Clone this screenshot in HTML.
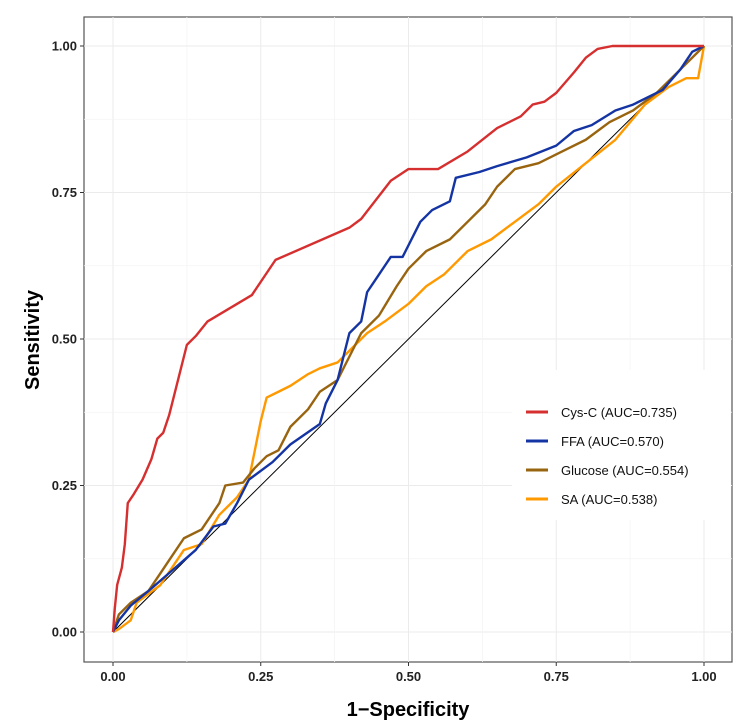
<!DOCTYPE html>
<html><head><meta charset="utf-8"><style>
body{margin:0;background:#fff;font-family:"Liberation Sans",Arial,sans-serif}
svg text{font-family:"Liberation Sans",Arial,sans-serif}
</style></head><body>
<svg id="chart" width="744" height="721" viewBox="0 0 744 721">
<rect x="84" y="17" width="648" height="645" fill="#fff" stroke="#555" stroke-width="1.2"/>
<g id="grid"></g><g id="axes"></g><g id="series"></g>
<g>
<rect x="512" y="370" width="219" height="150" fill="#fff"/>
</g>
<g id="legend"></g>
<text transform="translate(39,340) rotate(-90)" text-anchor="middle" font-size="20" font-weight="bold">Sensitivity</text>
<text x="408" y="716" text-anchor="middle" font-size="20" font-weight="bold">1−Specificity</text>
</svg>
<script>
const ticks=[0,0.25,0.5,0.75,1];
const tickLabels=["0.00","0.25","0.50","0.75","1.00"];
const seriesNames=["Cys-C (AUC=0.735)","FFA (AUC=0.570)","Glucose (AUC=0.554)","SA (AUC=0.538)"];
const seriesColors=["#d62f2f","#1434a4","#99640f","#ff9900"];
const cysX=[0,0.003,0.007,0.015,0.02,0.025,0.035,0.05,0.065,0.075,0.085,0.095,0.11,0.125,0.14,0.16,0.235,0.275,0.40,0.42,0.47,0.50,0.55,0.60,0.65,0.69,0.71,0.73,0.75,0.78,0.80,0.82,0.845,1];
const cysY=[0,0.04,0.08,0.11,0.15,0.22,0.235,0.26,0.295,0.33,0.34,0.37,0.43,0.49,0.505,0.53,0.575,0.635,0.69,0.705,0.77,0.79,0.79,0.82,0.86,0.88,0.90,0.905,0.92,0.955,0.98,0.995,1,1];
const ffaX=[0,0.01,0.03,0.06,0.1,0.14,0.17,0.19,0.21,0.23,0.27,0.30,0.35,0.36,0.38,0.39,0.40,0.42,0.43,0.45,0.46,0.47,0.49,0.50,0.52,0.54,0.57,0.58,0.62,0.65,0.70,0.75,0.78,0.81,0.85,0.88,0.93,0.96,0.98,1];
const ffaY=[0,0.02,0.045,0.07,0.105,0.14,0.18,0.185,0.22,0.26,0.29,0.32,0.355,0.39,0.43,0.47,0.51,0.53,0.58,0.61,0.625,0.64,0.64,0.66,0.70,0.72,0.735,0.775,0.785,0.795,0.81,0.83,0.855,0.865,0.89,0.90,0.925,0.96,0.99,1];
const gluX=[0,0.01,0.03,0.06,0.08,0.1,0.12,0.15,0.18,0.19,0.22,0.24,0.26,0.28,0.3,0.33,0.35,0.38,0.42,0.45,0.48,0.5,0.53,0.57,0.6,0.63,0.65,0.68,0.72,0.76,0.8,0.84,0.88,0.92,0.96,1];
const gluY=[0,0.03,0.05,0.07,0.1,0.13,0.16,0.175,0.22,0.25,0.255,0.28,0.3,0.31,0.35,0.38,0.41,0.43,0.51,0.54,0.59,0.62,0.65,0.67,0.70,0.73,0.76,0.79,0.80,0.82,0.84,0.87,0.89,0.92,0.96,1];
const saX=[0,0.01,0.03,0.04,0.08,0.12,0.15,0.18,0.21,0.23,0.24,0.25,0.26,0.28,0.3,0.33,0.35,0.38,0.40,0.43,0.46,0.5,0.53,0.56,0.6,0.64,0.68,0.72,0.75,0.8,0.85,0.9,0.94,0.97,0.99,1];
const saY=[0,0.005,0.02,0.05,0.08,0.14,0.15,0.2,0.23,0.26,0.31,0.36,0.40,0.41,0.42,0.44,0.45,0.46,0.48,0.51,0.53,0.56,0.59,0.61,0.65,0.67,0.70,0.73,0.76,0.80,0.84,0.90,0.93,0.945,0.945,1];
const NS="http://www.w3.org/2000/svg";
const sx=v=>113+v*591, sy=v=>632-v*586;
function mk(t,a,p){const e=document.createElementNS(NS,t);for(const k in a)e.setAttribute(k,a[k]);p.appendChild(e);return e;}
const grid=document.getElementById('grid'),axes=document.getElementById('axes');
ticks.forEach((t,i)=>{
 const g1=mk('line',{x1:sx(t),x2:sx(t),y1:17,y2:662,stroke:'#ebebeb','stroke-width':1},grid);
 
 const g2=mk('line',{x1:84,x2:732,y1:sy(t),y2:sy(t),stroke:'#ebebeb','stroke-width':1},grid);
 
 if(i<4){
  const m=(ticks[i]+ticks[i+1])/2;
  const g3=mk('line',{x1:sx(m),x2:sx(m),y1:17,y2:662,stroke:'#f4f4f4','stroke-width':0.8},grid);
  
  const g4=mk('line',{x1:84,x2:732,y1:sy(m),y2:sy(m),stroke:'#f4f4f4','stroke-width':0.8},grid);
  
 }
 mk('line',{x1:sx(t),x2:sx(t),y1:662,y2:666,stroke:'#333'},axes);
 mk('line',{x1:80,x2:84,y1:sy(t),y2:sy(t),stroke:'#333'},axes);
 const xl=mk('text',{x:sx(t),y:681,'text-anchor':'middle','font-size':13,'font-weight':'bold',fill:'#222'},axes);
 xl.textContent=tickLabels[i];
 
 const yl=mk('text',{x:77,y:sy(t)+4.5,'text-anchor':'end','font-size':13,'font-weight':'bold',fill:'#222'},axes);
 yl.textContent=tickLabels[i];
 
});
const ser=document.getElementById('series');
const diag=mk('line',{x1:sx(0),y1:sy(0),x2:sx(1),y2:sy(1),stroke:'#000','stroke-width':1},ser);

const all=[[cysX,cysY],[ffaX,ffaY],[gluX,gluY],[saX,saY]];
const names=['cys-c-curve','ffa-curve','glucose-curve','sa-curve'];
[3,2,1,0].forEach(k=>{
 const [X,Y]=all[k];
 const p=mk('polyline',{points:X.map((x,i)=>sx(x)+','+sy(Y[i])).join(' '),fill:'none',stroke:seriesColors[k],'stroke-width':2.4,'stroke-linejoin':'round'},ser);
 
});
const lg=document.getElementById('legend');
seriesNames.forEach((n,i)=>{
 const y=412+i*29;
 const l=mk('line',{x1:526,x2:548,y1:y,y2:y,stroke:seriesColors[i],'stroke-width':3},lg);
 
 const t=mk('text',{x:561,y:y+5,'font-size':13,fill:'#111'},lg);
 t.textContent=n;
 
});
</script>
</body></html>
